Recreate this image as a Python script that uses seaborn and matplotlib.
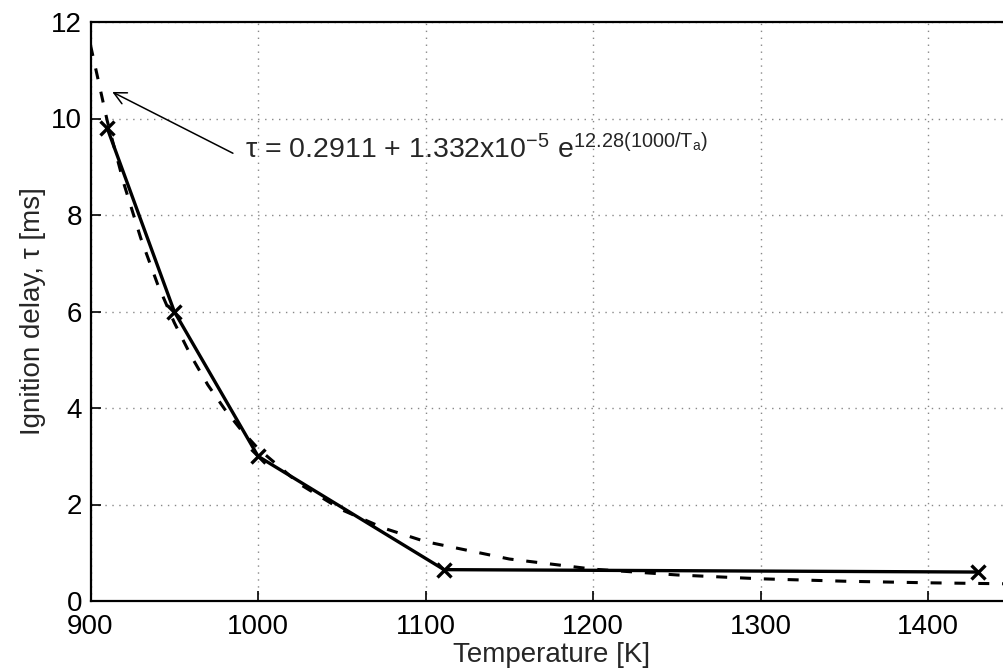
import numpy as np
import pandas as pd
import matplotlib
matplotlib.use("Agg")
import matplotlib.pyplot as plt
import seaborn as sns

# measured ignition delays
temp_k = [910, 950, 1000, 1111, 1430]
delay_ms = [9.8, 6.0, 3.0, 0.65, 0.6]

# fitted curve
fit_temp = [900, 910, 920, 930, 940, 950, 960, 970, 980, 990, 1000, 1025,
            1050, 1075, 1100, 1150, 1200, 1250, 1300, 1350, 1400, 1450]
fit_delay = [11.52, 9.95, 8.64, 7.52, 6.57, 5.77, 5.08, 4.48, 3.98, 3.54,
             3.16, 2.42, 1.89, 1.51, 1.23, 0.87, 0.66, 0.54, 0.46, 0.41,
             0.377, 0.355]

x_ticks = [900, 1000, 1100, 1200, 1300, 1400]
y_ticks = [0, 2, 4, 6, 8, 10, 12]

sns.set_theme(style="ticks")
plt.rcParams["font.family"] = ["Liberation Sans", "DejaVu Sans"]
plt.rcParams["mathtext.fontset"] = "custom"
plt.rcParams["mathtext.rm"] = "Liberation Sans"
plt.rcParams["mathtext.it"] = "Liberation Sans"

meas = pd.DataFrame({"T": temp_k, "tau": delay_ms})
fit = pd.DataFrame({"T": fit_temp, "tau": fit_delay})

fig = plt.figure(figsize=(10.04, 6.72), dpi=100)
# axes run past the right edge, like the cropped original
ax = fig.add_axes([90.5 / 1004, 71 / 672, (1012 - 90.5) / 1004, 579 / 672])

sns.lineplot(data=fit, x="T", y="tau", ax=ax, color="black", lw=2.2,
             linestyle=(0, (3.6, 4.2)))
sns.lineplot(data=meas, x="T", y="tau", ax=ax, color="black", lw=2.4,
             marker="x", markersize=10, markeredgewidth=2.4,
             markeredgecolor="black")

ax.set_xlim(900, 1450)
ax.set_ylim(0, 12)
ax.set_xticks(x_ticks)
ax.set_yticks(y_ticks)
ax.tick_params(direction="in", length=7, width=1.2, labelsize=20,
               colors="black", pad=6)
ax.tick_params(axis="x", pad=9)
ax.grid(True, linestyle=(0, (1, 4)), color="#888888", lw=1)
for s in ax.spines.values():
    s.set_color("black")
    s.set_linewidth(1.6)

ax.set_xlabel("Temperature [K]", fontsize=20, labelpad=2)
ax.set_ylabel("Ignition delay, τ [ms]", fontsize=20, labelpad=4)

# fit equation and arrow pointing at the curve
ax.text(992, 9.18, "τ = 0.2911 + 1.332x10$^{-5}$ e$^{12.28(1000/T_{a})}$",
        fontsize=20.5, ha="left", va="baseline")
ax.annotate("", xy=(913, 10.55), xytext=(985, 9.28),
            arrowprops=dict(arrowstyle="->", color="black", lw=1.1,
                            mutation_scale=22, shrinkA=0, shrinkB=0))

fig.savefig("out.png", dpi=100)
